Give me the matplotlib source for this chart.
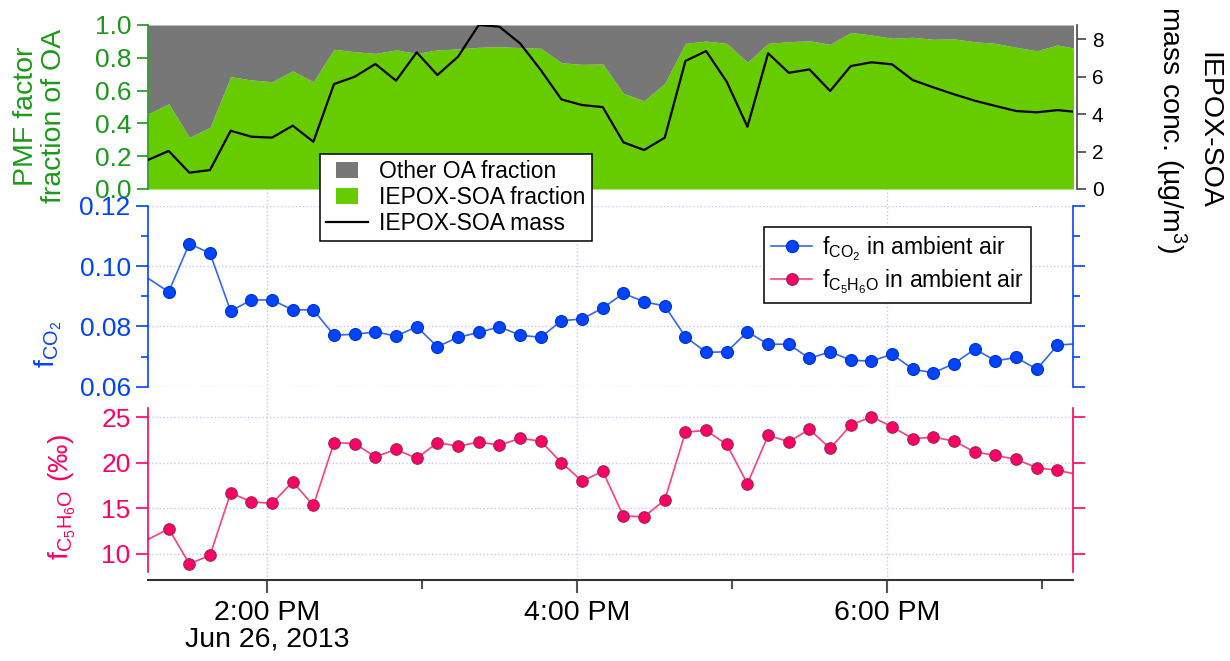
import numpy as np
import pandas as pd
import matplotlib
matplotlib.use('Agg')
import matplotlib.pyplot as plt
import matplotlib.patches as mpatches
from matplotlib.patches import Patch
from matplotlib.lines import Line2D
from matplotlib.legend_handler import HandlerPatch
from matplotlib.ticker import MultipleLocator, FormatStrFormatter

plt.rcParams['font.family'] = ['Liberation Sans', 'DejaVu Sans']
plt.rcParams['mathtext.default'] = 'regular'

# 8-minute samples, Jun 26, 2013
times = pd.date_range('2013-06-26 13:14', '2013-06-26 19:14', freq='8min')

# PMF IEPOX-SOA fraction of OA (rest is "other OA")
iepox_frac = [0.457, 0.52, 0.315, 0.376, 0.685, 0.665, 0.654, 0.72, 0.654, 0.852,
              0.837, 0.827, 0.848, 0.827, 0.848, 0.854, 0.864, 0.868, 0.862, 0.858,
              0.77, 0.76, 0.762, 0.583, 0.538, 0.644, 0.888, 0.902, 0.888, 0.772,
              0.888, 0.898, 0.904, 0.882, 0.955, 0.939, 0.919, 0.925, 0.913, 0.915,
              0.898, 0.888, 0.864, 0.843, 0.878, 0.855]

# IEPOX-SOA mass conc. (ug/m3)
iepox_mass = [1.55, 2.03, 0.87, 1.01, 3.11, 2.79, 2.74, 3.38, 2.52, 5.6,
              5.99, 6.67, 5.78, 7.29, 6.08, 7.06, 8.75, 8.66, 7.77, 6.35,
              4.78, 4.48, 4.37, 2.49, 2.08, 2.74, 6.83, 7.36, 5.72, 3.32,
              7.24, 6.2, 6.38, 5.23, 6.56, 6.76, 6.65, 5.81, 5.42, 5.05,
              4.71, 4.43, 4.16, 4.09, 4.21, 4.1]

f_co2 = [0.096, 0.0915, 0.1075, 0.1043, 0.0851, 0.0888, 0.0888, 0.0855, 0.0855, 0.0771,
         0.0774, 0.0782, 0.0768, 0.0799, 0.0733, 0.0764, 0.078, 0.0799, 0.0771, 0.0764,
         0.0819, 0.0825, 0.0861, 0.091, 0.0882, 0.0868, 0.0766, 0.0714, 0.0716, 0.0782,
         0.0741, 0.0741, 0.0694, 0.0716, 0.0688, 0.0685, 0.0708, 0.0658, 0.0646, 0.0677,
         0.0725, 0.0686, 0.0697, 0.0658, 0.0738, 0.0743]

# per mille
f_c5h6o = [11.57, 12.75, 8.9, 9.82, 16.7, 15.7, 15.53, 17.9, 15.3, 22.2,
           22.1, 20.65, 21.45, 20.47, 22.2, 21.8, 22.26, 21.93, 22.66, 22.37,
           20.0, 17.97, 19.07, 14.13, 14.07, 15.9, 23.35, 23.54, 22.0, 17.69,
           22.99, 22.3, 23.65, 21.56, 24.12, 25.04, 23.94, 22.63, 22.8, 22.37,
           21.16, 20.8, 20.36, 19.45, 19.15, 18.7]

major_hours = pd.to_datetime(['2013-06-26 14:00', '2013-06-26 16:00', '2013-06-26 18:00'])
minor_hours = pd.to_datetime(['2013-06-26 15:00', '2013-06-26 17:00', '2013-06-26 19:00'])
hour_labels = ['2:00 PM\nJun 26, 2013', '4:00 PM', '6:00 PM']
xlim = (pd.Timestamp('2013-06-26 13:14'), pd.Timestamp('2013-06-26 19:12'))

green_fill = '#66cc00'
gray_fill = '#777777'
green_txt = '#1a9a1a'
blue = '#0044ff'
blue_line = '#3366ff'
pink = '#ff0066'
pink_line = '#ff3d7f'
grid_c = '#c4c4ff'

W, H = 1230, 661
fig = plt.figure(figsize=(12.3, 6.61), dpi=100)


def box(x0, y0, x1, y1):
    return [x0 / W, 1 - y1 / H, (x1 - x0) / W, (y1 - y0) / H]


# background axes just for the vertical hour grid lines
ax_bg = fig.add_axes(box(148, 189, 1073, 580))
for t in major_hours:
    ax_bg.axvline(t, color=grid_c, ls=':', lw=1)
ax_bg.set_xlim(xlim)
ax_bg.axis('off')

ax_top = fig.add_axes(box(148, 25, 1073, 189))
ax_mid = fig.add_axes(box(148, 206, 1073, 386.7))
ax_bot = fig.add_axes(box(148, 408, 1073, 572))

# ---- top panel: PMF fractions + IEPOX-SOA mass
ax_top.fill_between(times, 0, iepox_frac, color=green_fill, lw=0)
ax_top.fill_between(times, iepox_frac, 1, color=gray_fill, lw=0)
ax_top.set_xlim(xlim)
ax_top.set_ylim(0, 1)
ax_top.set_yticks([0, 0.2, 0.4, 0.6, 0.8, 1.0])
ax_top.yaxis.set_major_formatter(FormatStrFormatter('%.1f'))
ax_top.tick_params(axis='y', colors=green_txt, labelsize=19, length=8, width=1.2, pad=4)
ax_top.tick_params(axis='x', bottom=False, labelbottom=False)
for s in ['top', 'bottom', 'right']:
    ax_top.spines[s].set_visible(False)
ax_top.spines['left'].set_color(green_txt)
ax_top.spines['left'].set_linewidth(1.2)

ax_mass = ax_top.twinx()
ax_mass.plot(times, iepox_mass, color='k', lw=1.6)
ax_mass.set_xlim(xlim)
ax_mass.set_ylim(0, 8.75)
ax_mass.set_yticks([0, 2, 4, 6, 8])
ax_mass.tick_params(axis='y', colors='#444444', labelcolor='k', labelsize=15, length=6.5, width=1.2, pad=4)
for s in ['top', 'bottom', 'left']:
    ax_mass.spines[s].set_visible(False)
ax_mass.spines['right'].set_position(('outward', 3))
ax_mass.spines['right'].set_color('#444444')
ax_mass.spines['right'].set_linewidth(1.2)

# ---- middle panel: fCO2
ax_mid.set_facecolor('none')
ax_mid.plot(times, f_co2, '-o', color=blue_line, lw=1.2, ms=8.6, mfc=blue, mec='#0033cc', mew=0.8,
            markevery=slice(1, -1))
ax_mid.set_xlim(xlim)
ax_mid.set_ylim(0.06, 0.12)
ax_mid.yaxis.set_major_locator(MultipleLocator(0.02))
ax_mid.yaxis.set_minor_locator(MultipleLocator(0.01))
ax_mid.yaxis.set_major_formatter(FormatStrFormatter('%.2f'))
ax_mid.tick_params(axis='y', which='both', left=True, right=True, labelright=False,
                   colors=blue, labelsize=19, width=1.2, pad=4)
ax_mid.tick_params(axis='y', which='major', length=8.5)
ax_mid.tick_params(axis='y', which='minor', length=5)
ax_mid.tick_params(axis='x', which='both', bottom=False, labelbottom=False)
ax_mid.grid(axis='y', which='major', color=grid_c, ls=':', lw=1)
for s in ['top', 'bottom']:
    ax_mid.spines[s].set_visible(False)
for s in ['left', 'right']:
    ax_mid.spines[s].set_color(blue)
    ax_mid.spines[s].set_linewidth(1.2)

# ---- bottom panel: fC5H6O
ax_bot.set_facecolor('none')
ax_bot.plot(times, f_c5h6o, '-o', color=pink_line, lw=1.2, ms=8.3, mfc=pink, mec='#9a2a4c', mew=0.8,
            markevery=slice(1, -1))
ax_bot.set_xlim(xlim)
ax_bot.set_ylim(8, 26)
ax_bot.set_yticks([10, 15, 20, 25])
ax_bot.tick_params(axis='y', left=True, right=True, labelright=False,
                   colors=pink, labelsize=19, length=8.5, width=1.2, pad=4)
ax_bot.grid(axis='y', color=grid_c, ls=':', lw=1)
ax_bot.spines['top'].set_visible(False)
for s in ['left', 'right']:
    ax_bot.spines[s].set_color(pink)
    ax_bot.spines[s].set_linewidth(1.2)
ax_bot.spines['bottom'].set_position(('outward', 6))
ax_bot.spines['bottom'].set_color('#333333')
ax_bot.spines['bottom'].set_linewidth(1.5)
ax_bot.set_xticks(major_hours, labels=hour_labels)
ax_bot.set_xticks(minor_hours, minor=True)
ax_bot.tick_params(axis='x', which='major', length=9, width=1.5, color='#555555', labelsize=20.5, pad=5)
ax_bot.tick_params(axis='x', which='minor', length=6.5, width=1.5, color='#555555')
for lab in ax_bot.get_xticklabels():
    lab.set_linespacing(1.05)

# ---- axis labels
fig.text(40 / W, 1 - 116 / H, 'PMF factor\nfraction of OA', rotation=90, ha='center', va='center',
         color=green_txt, fontsize=20.5, linespacing=1.1)
fig.text(48 / W, 1 - 344 / H, 'f$_{CO_2}$', rotation=90, ha='center', va='center',
         color=blue, fontsize=20.5)
fig.text(62 / W, 1 - 497 / H, 'f$_{C_5H_6O}$ (‰)', rotation=90, ha='center', va='center',
         color=pink, fontsize=20.5)
fig.text(1187 / W, 1 - 130 / H, 'IEPOX-SOA\nmass conc. (µg/m$^3$)', rotation=270, ha='center',
         va='center', color='k', fontsize=20.5, linespacing=1.25)


# ---- legends
def small_square(legend, orig_handle, xdescent, ydescent, width, height, fontsize):
    return mpatches.Rectangle((-xdescent + width * 0.23, -ydescent), width * 0.54, height)


h1 = [Patch(facecolor=gray_fill), Patch(facecolor=green_fill), Line2D([], [], color='k', lw=1.6)]
l1 = ['Other OA fraction', 'IEPOX-SOA fraction', 'IEPOX-SOA mass']
leg1 = fig.legend(h1, l1, loc='upper left', bbox_to_anchor=(320 / W, 1 - 154 / H), borderaxespad=0,
                  fontsize=16.5, fancybox=False, edgecolor='k', framealpha=1, handlelength=1.8,
                  handletextpad=0.5, labelspacing=0.12, borderpad=0.28,
                  handler_map={Patch: HandlerPatch(patch_func=small_square)})
leg1.get_frame().set_linewidth(1.1)

h2 = [Line2D([], [], color=blue_line, lw=1.2, marker='o', ms=8.6, mfc=blue, mec='#0033cc'),
      Line2D([], [], color=pink_line, lw=1.2, marker='o', ms=8.3, mfc=pink, mec='#9a2a4c')]
l2 = ['f$_{CO_2}$ in ambient air', 'f$_{C_5H_6O}$ in ambient air']
leg2 = fig.legend(h2, l2, loc='upper left', bbox_to_anchor=(764 / W, 1 - 227 / H), borderaxespad=0,
                  fontsize=16.5, fancybox=False, edgecolor='k', framealpha=1, handlelength=1.8,
                  handletextpad=0.45, labelspacing=0.2, borderpad=0.3)
leg2.get_frame().set_linewidth(1.1)

plt.savefig('out.png', dpi=100)
